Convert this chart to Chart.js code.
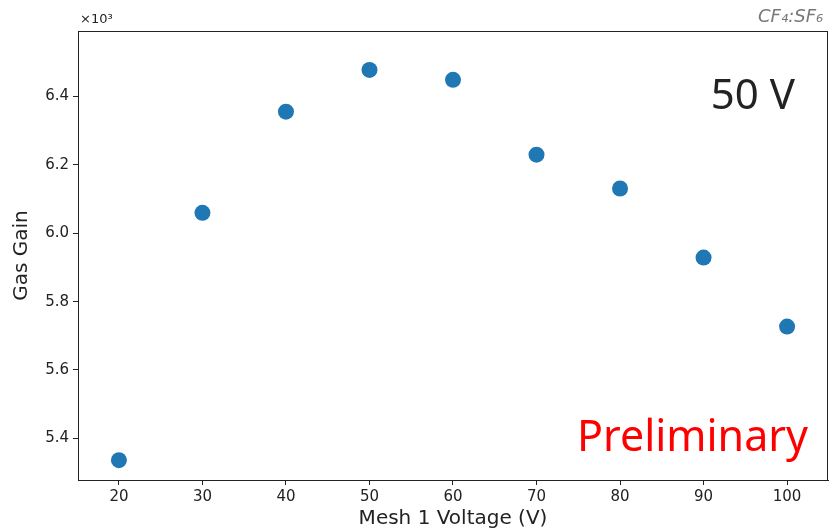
<!DOCTYPE html>
<html>
<head>
<meta charset="utf-8">
<script src="https://cdn.jsdelivr.net/npm/chart.js@4"></script>
<style>
  html, body { margin: 0; padding: 0; background: #fff; }
</style>
</head>
<body>
<canvas id="gainChart" width="829" height="530"></canvas>
<script>
// mesh 1 voltage (V)
const meshVoltage = [20, 30, 40, 50, 60, 70, 80, 90, 100];
// gas gain
const gasGain = [5336, 6060, 6356, 6478, 6449, 6230, 6131, 5929, 5727];
const xTicks = [20, 30, 40, 50, 60, 70, 80, 90, 100];
const yTicks = [5400, 5600, 5800, 6000, 6200, 6400];

const ink = "#222";

const boxAndText = {
  id: "boxAndText",
  afterDraw(chart) {
    const { ctx, chartArea: a } = chart;
    ctx.save();
    // full frame like the matplotlib spines
    ctx.strokeStyle = ink;
    ctx.lineWidth = 1;
    ctx.strokeRect(a.left + 0.5, a.top + 0.5, a.right - a.left - 1, a.bottom - a.top);

    ctx.fillStyle = ink;
    ctx.font = "13px 'DejaVu Sans'";
    ctx.textAlign = "left";
    ctx.textBaseline = "alphabetic";
    ctx.fillText("\u00d710\u00b3", a.left + 2, a.top - 8);

    ctx.fillStyle = "#777";
    ctx.font = "italic 18px 'DejaVu Sans'";
    ctx.fillText("CF\u2084:SF\u2086", 758, 22);

    ctx.fillStyle = ink;
    ctx.font = "42px 'Noto Sans'";
    ctx.textAlign = "right";
    ctx.fillText("50 V", 795, 109);

    ctx.fillStyle = "#ff0000";
    ctx.font = "43px 'Noto Sans'";
    ctx.fillText("Preliminary", 808, 451);
    ctx.restore();
  }
};

new Chart(document.getElementById("gainChart"), {
  type: "scatter",
  data: {
    datasets: [{
      data: meshVoltage.map((v, i) => ({ x: v, y: gasGain[i] })),
      backgroundColor: "#1f77b4",
      borderColor: "#1f77b4",
      borderWidth: 0,
      pointRadius: 8,
      pointHoverRadius: 8
    }]
  },
  options: {
    responsive: false,
    animation: false,
    layout: { autoPadding: false, padding: { top: 31, right: 1, left: 0, bottom: 0 } },
    plugins: {
      legend: { display: false },
      tooltip: { enabled: false }
    },
    scales: {
      x: {
        type: "linear",
        min: 15.1,
        max: 104.9,
        afterFit: s => { s.height = 50; s.paddingLeft = 0; s.paddingRight = 0; },
        afterBuildTicks: s => { s.ticks = xTicks.map(v => ({ value: v })); },
        grid: { drawOnChartArea: false, tickLength: 5, color: ink },
        border: { color: ink },
        ticks: { color: ink, font: { family: "DejaVu Sans", size: 15 }, padding: 3, maxRotation: 0 },
        title: {
          display: true,
          text: "Mesh 1 Voltage (V)",
          color: ink,
          font: { family: "DejaVu Sans", size: 20 },
          padding: { top: 0, bottom: -1 }
        }
      },
      y: {
        min: 5278,
        max: 6592,
        afterFit: s => { s.width = 78; s.paddingTop = 0; s.paddingBottom = 0; },
        afterBuildTicks: s => { s.ticks = yTicks.map(v => ({ value: v })); },
        grid: { drawOnChartArea: false, tickLength: 5, color: ink },
        border: { color: ink },
        ticks: {
          color: ink,
          font: { family: "DejaVu Sans", size: 15 },
          padding: 4,
          callback: v => (v / 1000).toFixed(1)
        },
        title: {
          display: true,
          text: "Gas Gain",
          color: ink,
          font: { family: "DejaVu Sans", size: 20 },
          padding: { top: 10, bottom: 0 }
        }
      }
    }
  },
  plugins: [boxAndText]
});
</script>
</body>
</html>
